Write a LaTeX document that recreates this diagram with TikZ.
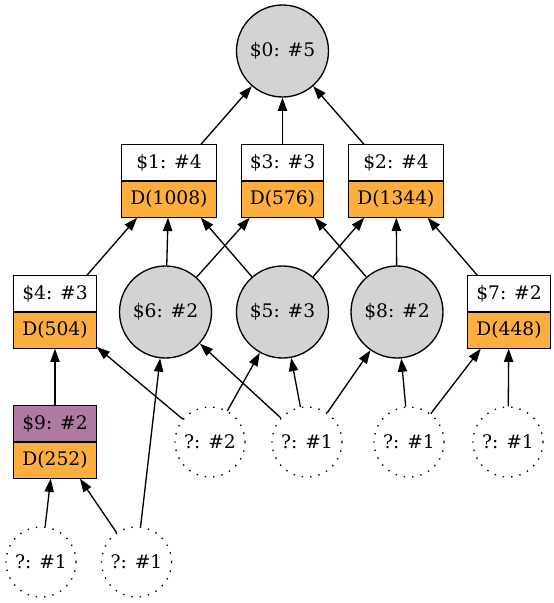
\documentclass[tikz,border=0pt]{standalone}
\usepackage{fontspec}
\setmainfont{DejaVu Serif}
\usetikzlibrary{arrows.meta}
\definecolor{recorange}{HTML}{FDAE3E}
\definecolor{recpurple}{HTML}{AF7AA1}
\definecolor{circgray}{HTML}{D3D3D3}
\tikzset{
  lbl/.style={inner sep=0pt, font=\fontsize{18.67}{22}\selectfont},
  recshape/.style={rectangle, minimum height=72pt, inner sep=0pt, outer sep=0.67pt},
  fullcirc/.style={circle, draw, fill=circgray, line width=1.33pt, minimum size=92pt, inner sep=0pt, font=\fontsize{18.67}{22}\selectfont},
  unkcirc/.style={circle, draw, line width=1.33pt, dash pattern=on 1.4pt off 7pt, minimum size=70pt, inner sep=0pt, font=\fontsize{18.67}{22}\selectfont},
  arr/.style={line width=1.33pt, -{Triangle[length=13.3pt,width=9.3pt]}},
}
% name, x, y, width, top fill, top text, bottom text
\newcommand\recbox[7]{%
  \node[recshape, minimum width=#4pt, fill=#5] (#1) at (#2,#3) {};
  \fill[recorange] (#1.west) rectangle (#1.south east);
  \draw[line width=1.33pt] (#1.west) -- (#1.east);
  \draw[line width=1.33pt] (#1.north west) rectangle (#1.south east);
  \node[lbl] (#1t) at ([yshift=18pt]#1.center) {#6};
  \node[lbl] (#1b) at ([yshift=-18pt]#1.center) {#7};
}
\begin{document}
\begin{tikzpicture}[x=1pt,y=-1pt]
\useasboundingbox (0,0) rectangle (554,603);
% circles
\node[fullcirc] (n0) at (282.5,51) {\$0: \#5};
\node[fullcirc] (n6) at (165.5,312) {\$6: \#2};
\node[fullcirc] (n5) at (282.5,312) {\$5: \#3};
\node[fullcirc] (n8) at (397,312) {\$8: \#2};
% records
\recbox{n1}{169}{181}{94}{white}{\$1: \#4}{D(1008)}
\recbox{n3}{282.5}{181}{81}{white}{\$3: \#3}{D(576)}
\recbox{n2}{396}{181}{94}{white}{\$2: \#4}{D(1344)}
\recbox{n4}{55}{312}{82}{white}{\$4: \#3}{D(504)}
\recbox{n7}{509}{312}{82}{white}{\$7: \#2}{D(448)}
\recbox{n9}{55}{442}{82}{recpurple}{\$9: \#2}{D(252)}
% unknown nodes
\node[unkcirc] (qa) at (210,442) {?: \#2};
\node[unkcirc] (qb) at (307,442) {?: \#1};
\node[unkcirc] (qc) at (409,442) {?: \#1};
\node[unkcirc] (qd) at (508,442) {?: \#1};
\node[unkcirc] (qe) at (41,562) {?: \#1};
\node[unkcirc] (qf) at (136.5,562) {?: \#1};
% edges
\draw[arr] (n1) -- (n0);
\draw[arr] (n3) -- (n0);
\draw[arr] (n2) -- (n0);
\draw[arr] (n4) -- (n1);
\draw[arr] (n6) -- (n1);
\draw[arr] (n5) -- (n1);
\draw[arr] (n6) -- (n3);
\draw[arr] (n8) -- (n3);
\draw[arr] (n5) -- (n2);
\draw[arr] (n8) -- (n2);
\draw[arr] (n7) -- (n2);
\draw[arr] (n9) -- (n4);
\draw[arr] (qa) -- (n4);
\draw[arr] (qa) -- (n5);
\draw[arr] (qb) -- (n6);
\draw[arr] (qb) -- (n5);
\draw[arr] (qb) -- (n8);
\draw[arr] (qc) -- (n8);
\draw[arr] (qc) -- (n7);
\draw[arr] (qd) -- (n7);
\draw[arr] (qe) -- (n9);
\draw[arr] (qf) -- (n9);
\draw[arr] (qf) -- (n6);
\end{tikzpicture}
\end{document}
